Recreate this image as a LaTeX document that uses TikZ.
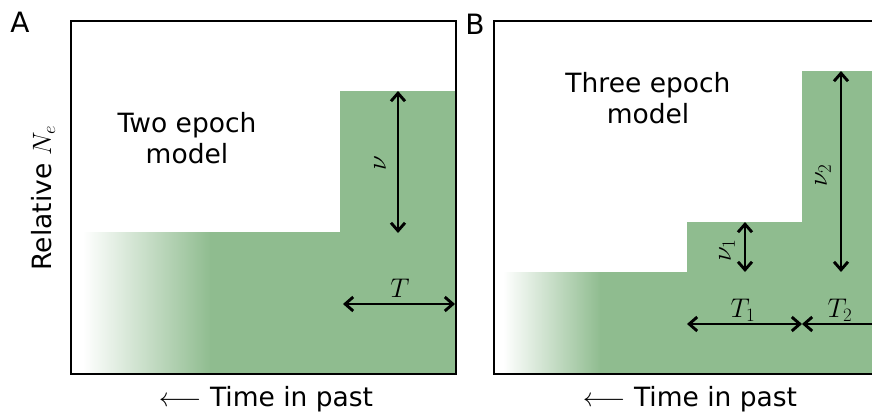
\RequirePackage{fix-cm}
\documentclass[tikz,border=0pt]{standalone}
\usepackage{fontspec}
\setmainfont{DejaVu Sans}
\usetikzlibrary{arrows.meta}
\definecolor{popgreen}{RGB}{143,188,143}

\begin{document}
\begin{tikzpicture}[
  x=1pt, y=-1pt,
  >={Straight Barb[length=8pt,width=14pt]},
  popframe/.style={draw=black, line width=2.8pt},
  popfill/.style={fill=popgreen, draw=none},
  popfade/.style={left color=white, right color=popgreen, draw=none},
  poparrow/.style={<->, draw=black, line width=2.9pt},
  poptxt/.style={font={\fontsize{26.5}{31}\selectfont}, align=center, inner sep=0pt},
  poppanel/.style={font={\fontsize{28}{32}\selectfont}, inner sep=0pt},
  popmath/.style={font={\fontsize{27}{31}\selectfont}, inner sep=0pt}
]
\useasboundingbox (0,0) rectangle (872,413);
\clip (0,0) rectangle (872,413);
% panel A
\shade[popfade] (83,232) rectangle (211,374);
\fill[popfill] (210,374) -- (210,232) -- (340,232) -- (340,91) -- (456,91) -- (456,374) -- cycle;
\draw[popframe] (71,21) rectangle (456,374);
\node[poppanel] (panA) at (20,22) {A};
\node[poptxt] (titleA) at (187,138) {Two epoch\\model};
\node[poptxt, rotate=90] (ylbl) at (43,198) {Relative $N_e$};
\node[poptxt] (xlblA) at (266,399) {$\longleftarrow$ Time in past};
\coordinate (nuAtop) at (398,91);
\coordinate (nuAbot) at (398,233);
\coordinate (tAleft) at (343,304);
\coordinate (tAright) at (455,304);
\draw[poparrow] (nuAtop) -- (nuAbot);
\draw[poparrow] (tAleft) -- (tAright);
\node[popmath, rotate=90] (nuA) at (380,163) {$\nu$};
\node[popmath] (TA) at (400,288) {$T$};
% panel B
\shade[popfade] (503,272) rectangle (601,374);
\fill[popfill] (600,374) -- (600,272) -- (687,272) -- (687,222) -- (802,222) -- (802,71) -- (880,71) -- (880,374) -- cycle;
\draw[popframe] (494,21) rectangle (900,374);
\node[poppanel] (panB) at (475,24) {B};
\node[poptxt] (titleB) at (648,98) {Three epoch\\model};
\node[poptxt] (xlblB) at (690,399) {$\longleftarrow$ Time in past};
\coordinate (nuBtop) at (745,222);
\coordinate (nuBbot) at (745,272);
\coordinate (nuCtop) at (841,71);
\coordinate (nuCbot) at (841,272);
\coordinate (tBleft) at (687,324);
\coordinate (tBmid) at (802,324);
\coordinate (tBright) at (917,324);
\draw[poparrow] (nuBtop) -- (nuBbot);
\draw[poparrow] (nuCtop) -- (nuCbot);
\draw[poparrow] (tBleft) -- (tBmid);
\draw[poparrow] (tBmid) -- (tBright);
\node[popmath, rotate=90] (nuB) at (727,250) {$\nu_1$};
\node[popmath, rotate=90] (nuC) at (823,175) {$\nu_2$};
\node[popmath] (TB) at (743,310) {$T_1$};
\node[popmath] (TC) at (840,310) {$T_2$};
\end{tikzpicture}
\end{document}
